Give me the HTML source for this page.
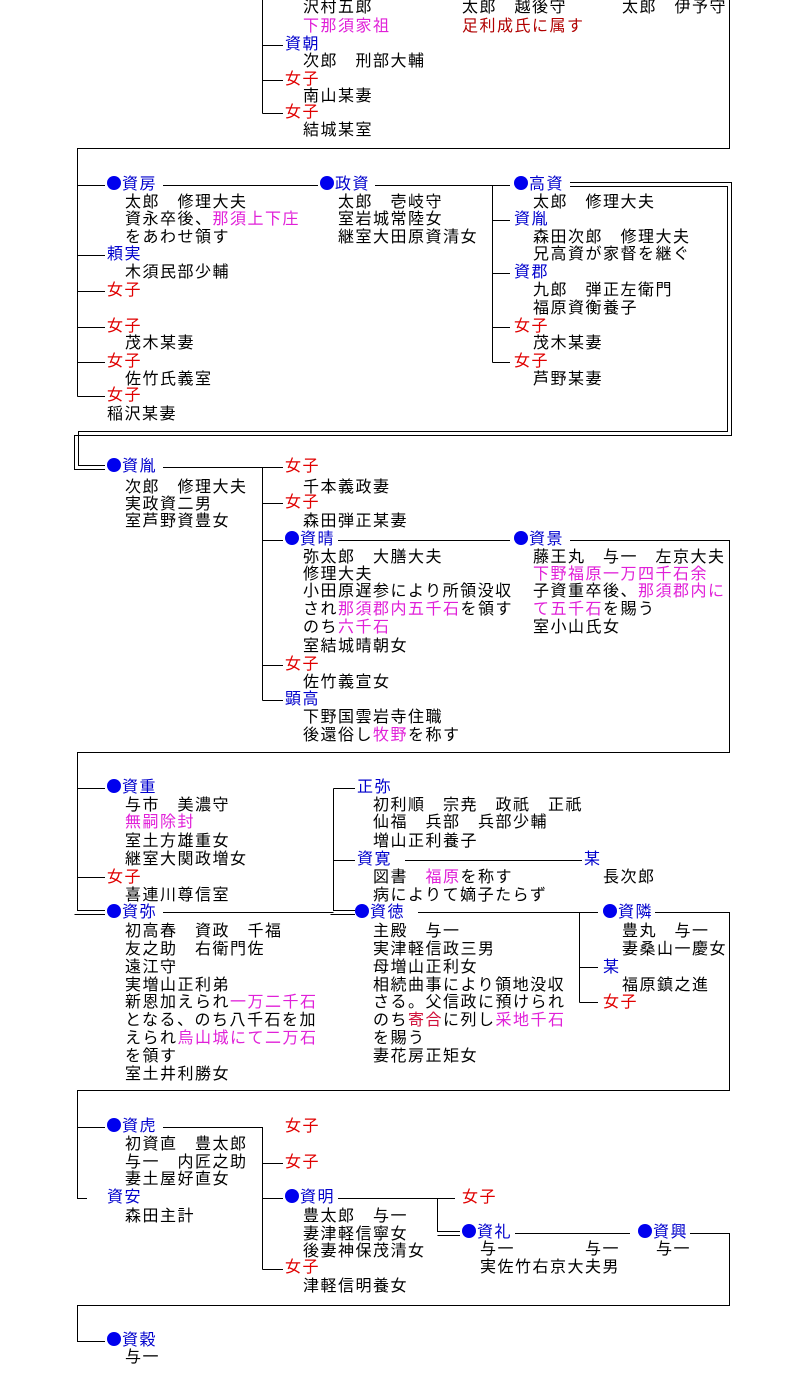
<!DOCTYPE html>
<html><head><meta charset="utf-8"><style>
body{margin:0;background:#fff;width:794px;height:1388px;position:relative;overflow:hidden;font-family:"Liberation Sans","Noto Sans CJK JP",sans-serif;}
.t{position:absolute;font-size:16px;line-height:18px;letter-spacing:1.5px;white-space:nowrap;color:#000;}
.b{color:#0000cc}.r{color:#e00000}.m{color:#e020d8}.dr{color:#b00000}
.d{display:inline-block;width:14px;height:14px;border-radius:50%;background:#0000ee;margin-right:1px;vertical-align:-1px}
svg{position:absolute;left:0;top:0}
</style></head><body>
<svg width="794" height="1388" fill="none" stroke="#000" stroke-width="1">
<path d="M262.5 0V113.5M262.5 45.5H283M262.5 80.5H283M262.5 113.5H283"/>
<path d="M729.5 0V148.5H77.5V396.5M77.5 185.5H105M77.5 255.5H105M77.5 291.5H105M77.5 327.5H105M77.5 362.5H105M77.5 396.5H105"/>
<path d="M163 185.5H318M375 185.5H510M492.5 185.5V362.5M492.5 220.5H510M492.5 273.5H510M492.5 327.5H510M492.5 362.5H510"/>
<path d="M570 182.5H731.5V435.5H74.5V469.5H105M570 186.5H727.5V431.5H78.5V465.5H105"/>
<path d="M163 467.5H262.5V700.5M262.5 467.5H283M262.5 503.5H283M262.5 540.5H283M262.5 665.5H283M262.5 700.5H283M338 540.5H510"/>
<path d="M570 540.5H729.5V752.5H77.5V910.5H105M77.5 788.5H105M77.5 877.5H105M74.5 914.5H105"/>
<path d="M163 912.5H333.5M333.5 788.5V910.5H355M333.5 788.5H355M333.5 860.5H355M330.5 914.5H355M405 860.5H582"/>
<path d="M418 912.5H598M579.5 912.5V1002.5M579.5 967.5H598M579.5 1002.5H598"/>
<path d="M655 912.5H729.5V1090.5H77.5V1198.5H87M77.5 1127.5H105"/>
<path d="M163 1127.5H262.5V1269.5M262.5 1163.5H283M262.5 1198.5H283M262.5 1269.5H283"/>
<path d="M338 1198.5H455M437.5 1198.5V1231.5H460M437.5 1235.5H460M515 1233.5H630"/>
<path d="M690 1233.5H729.5V1305.5H77.5V1341.5H105"/>
</svg>

<div class="t" style="left:303px;top:-1px">沢村五郎</div>
<div class="t" style="left:462px;top:-1px">太郎　越後守</div>
<div class="t" style="left:622px;top:-1px">太郎　伊予守</div>
<div class="t m" style="left:303px;top:18px">下那須家祖</div>
<div class="t dr" style="left:462px;top:18px">足利成氏に属す</div>
<div class="t b" style="left:285px;top:36px">資朝</div>
<div class="t" style="left:303px;top:53px">次郎　刑部大輔</div>
<div class="t r" style="left:285px;top:71px">女子</div>
<div class="t" style="left:303px;top:88px">南山某妻</div>
<div class="t r" style="left:285px;top:104px">女子</div>
<div class="t" style="left:303px;top:122px">結城某室</div>

<div class="t b" style="left:107px;top:176px"><span class="d"></span>資房</div>
<div class="t b" style="left:320px;top:176px"><span class="d"></span>政資</div>
<div class="t b" style="left:514px;top:176px"><span class="d"></span>高資</div>
<div class="t" style="left:125px;top:194px">太郎　修理大夫</div>
<div class="t" style="left:338px;top:194px">太郎　壱岐守</div>
<div class="t" style="left:533px;top:194px">太郎　修理大夫</div>
<div class="t" style="left:125px;top:211px">資永卒後、<span class="m">那須上下庄</span></div>
<div class="t" style="left:338px;top:211px">室岩城常陸女</div>
<div class="t b" style="left:514px;top:211px">資胤</div>
<div class="t" style="left:125px;top:229px">をあわせ領す</div>
<div class="t" style="left:338px;top:229px">継室大田原資清女</div>
<div class="t" style="left:533px;top:229px">森田次郎　修理大夫</div>
<div class="t b" style="left:107px;top:246px">頼実</div>
<div class="t" style="left:533px;top:246px">兄高資が家督を継ぐ</div>
<div class="t" style="left:125px;top:264px">木須民部少輔</div>
<div class="t b" style="left:514px;top:264px">資郡</div>
<div class="t r" style="left:107px;top:282px">女子</div>
<div class="t" style="left:533px;top:282px">九郎　弾正左衛門</div>
<div class="t" style="left:533px;top:300px">福原資衡養子</div>
<div class="t r" style="left:107px;top:318px">女子</div>
<div class="t r" style="left:514px;top:318px">女子</div>
<div class="t" style="left:125px;top:335px">茂木某妻</div>
<div class="t" style="left:533px;top:335px">茂木某妻</div>
<div class="t r" style="left:107px;top:353px">女子</div>
<div class="t r" style="left:514px;top:353px">女子</div>
<div class="t" style="left:125px;top:371px">佐竹氏義室</div>
<div class="t" style="left:533px;top:371px">芦野某妻</div>
<div class="t r" style="left:107px;top:387px">女子</div>
<div class="t" style="left:107px;top:406px">稲沢某妻</div>

<div class="t b" style="left:107px;top:458px"><span class="d"></span>資胤</div>
<div class="t r" style="left:285px;top:458px">女子</div>
<div class="t" style="left:125px;top:479px">次郎　修理大夫</div>
<div class="t" style="left:303px;top:479px">千本義政妻</div>
<div class="t" style="left:125px;top:496px">実政資二男</div>
<div class="t r" style="left:285px;top:494px">女子</div>
<div class="t" style="left:125px;top:513px">室芦野資豊女</div>
<div class="t" style="left:303px;top:513px">森田弾正某妻</div>
<div class="t b" style="left:285px;top:531px"><span class="d"></span>資晴</div>
<div class="t b" style="left:514px;top:531px"><span class="d"></span>資景</div>
<div class="t" style="left:303px;top:549px">弥太郎　大膳大夫</div>
<div class="t" style="left:533px;top:549px">藤王丸　与一　左京大夫</div>
<div class="t" style="left:303px;top:566px">修理大夫</div>
<div class="t m" style="left:533px;top:566px">下野福原一万四千石余</div>
<div class="t" style="left:303px;top:583px">小田原遅参により所領没収</div>
<div class="t" style="left:533px;top:583px">子資重卒後、<span class="m">那須郡内に</span></div>
<div class="t" style="left:303px;top:601px">され<span class="m">那須郡内五千石</span>を領す</div>
<div class="t" style="left:533px;top:601px"><span class="m">て五千石</span>を賜う</div>
<div class="t" style="left:303px;top:619px">のち<span class="m">六千石</span></div>
<div class="t" style="left:533px;top:619px">室小山氏女</div>
<div class="t" style="left:303px;top:638px">室結城晴朝女</div>
<div class="t r" style="left:285px;top:656px">女子</div>
<div class="t" style="left:303px;top:674px">佐竹義宣女</div>
<div class="t b" style="left:285px;top:691px">顕高</div>
<div class="t" style="left:303px;top:709px">下野国雲岩寺住職</div>
<div class="t" style="left:303px;top:727px">後還俗し<span class="m">牧野</span>を称す</div>

<div class="t b" style="left:107px;top:779px"><span class="d"></span>資重</div>
<div class="t b" style="left:357px;top:779px">正弥</div>
<div class="t" style="left:125px;top:797px">与市　美濃守</div>
<div class="t" style="left:373px;top:797px">初利順　宗尭　政祇　正祇</div>
<div class="t m" style="left:125px;top:814px">無嗣除封</div>
<div class="t" style="left:373px;top:814px">仙福　兵部　兵部少輔</div>
<div class="t" style="left:125px;top:833px">室土方雄重女</div>
<div class="t" style="left:373px;top:833px">増山正利養子</div>
<div class="t" style="left:125px;top:851px">継室大関政増女</div>
<div class="t b" style="left:357px;top:851px">資寛</div>
<div class="t b" style="left:584px;top:851px">某</div>
<div class="t r" style="left:107px;top:869px">女子</div>
<div class="t" style="left:373px;top:869px">図書　<span class="m">福原</span>を称す</div>
<div class="t" style="left:603px;top:869px">長次郎</div>
<div class="t" style="left:125px;top:887px">喜連川尊信室</div>
<div class="t" style="left:373px;top:887px">病によりて嫡子たらず</div>
<div class="t b" style="left:107px;top:904px"><span class="d"></span>資弥</div>
<div class="t b" style="left:355px;top:904px"><span class="d"></span>資徳</div>
<div class="t b" style="left:603px;top:904px"><span class="d"></span>資隣</div>
<div class="t" style="left:125px;top:923px">初高春　資政　千福</div>
<div class="t" style="left:373px;top:923px">主殿　与一</div>
<div class="t" style="left:622px;top:923px">豊丸　与一</div>
<div class="t" style="left:125px;top:941px">友之助　右衛門佐</div>
<div class="t" style="left:373px;top:941px">実津軽信政三男</div>
<div class="t" style="left:622px;top:941px">妻桑山一慶女</div>
<div class="t" style="left:125px;top:959px">遠江守</div>
<div class="t" style="left:373px;top:959px">母増山正利女</div>
<div class="t b" style="left:603px;top:959px">某</div>
<div class="t" style="left:125px;top:977px">実増山正利弟</div>
<div class="t" style="left:373px;top:977px">相続曲事により領地没収</div>
<div class="t" style="left:622px;top:977px">福原鎮之進</div>
<div class="t" style="left:125px;top:994px">新恩加えられ<span class="m">一万二千石</span></div>
<div class="t" style="left:373px;top:994px">さる。父信政に預けられ</div>
<div class="t r" style="left:603px;top:994px">女子</div>
<div class="t" style="left:125px;top:1012px">となる、のち八千石を加</div>
<div class="t" style="left:373px;top:1012px">のち<span class="dr" style="color:#d0103a">寄合</span>に列し<span class="m">采地千石</span></div>
<div class="t" style="left:125px;top:1030px">えられ<span class="m">烏山城にて二万石</span></div>
<div class="t" style="left:373px;top:1030px">を賜う</div>
<div class="t" style="left:125px;top:1048px">を領す</div>
<div class="t" style="left:373px;top:1048px">妻花房正矩女</div>
<div class="t" style="left:125px;top:1066px">室土井利勝女</div>

<div class="t b" style="left:107px;top:1118px"><span class="d"></span>資虎</div>
<div class="t r" style="left:285px;top:1118px">女子</div>
<div class="t" style="left:125px;top:1136px">初資直　豊太郎</div>
<div class="t" style="left:125px;top:1154px">与一　内匠之助</div>
<div class="t r" style="left:285px;top:1154px">女子</div>
<div class="t" style="left:125px;top:1171px">妻土屋好直女</div>
<div class="t b" style="left:107px;top:1189px">資安</div>
<div class="t b" style="left:285px;top:1189px"><span class="d"></span>資明</div>
<div class="t r" style="left:462px;top:1189px">女子</div>
<div class="t" style="left:125px;top:1208px">森田主計</div>
<div class="t" style="left:303px;top:1208px">豊太郎　与一</div>
<div class="t b" style="left:462px;top:1224px"><span class="d"></span>資礼</div>
<div class="t b" style="left:638px;top:1224px"><span class="d"></span>資興</div>
<div class="t" style="left:303px;top:1226px">妻津軽信寧女</div>
<div class="t" style="left:480px;top:1241px">与一</div>
<div class="t" style="left:585px;top:1241px">与一</div>
<div class="t" style="left:656px;top:1241px">与一</div>
<div class="t" style="left:303px;top:1243px">後妻神保茂清女</div>
<div class="t r" style="left:285px;top:1259px">女子</div>
<div class="t" style="left:480px;top:1259px">実佐竹右京大夫男</div>
<div class="t" style="left:303px;top:1278px">津軽信明養女</div>
<div class="t b" style="left:107px;top:1332px"><span class="d"></span>資穀</div>
<div class="t" style="left:125px;top:1349px">与一</div>
</body></html>
